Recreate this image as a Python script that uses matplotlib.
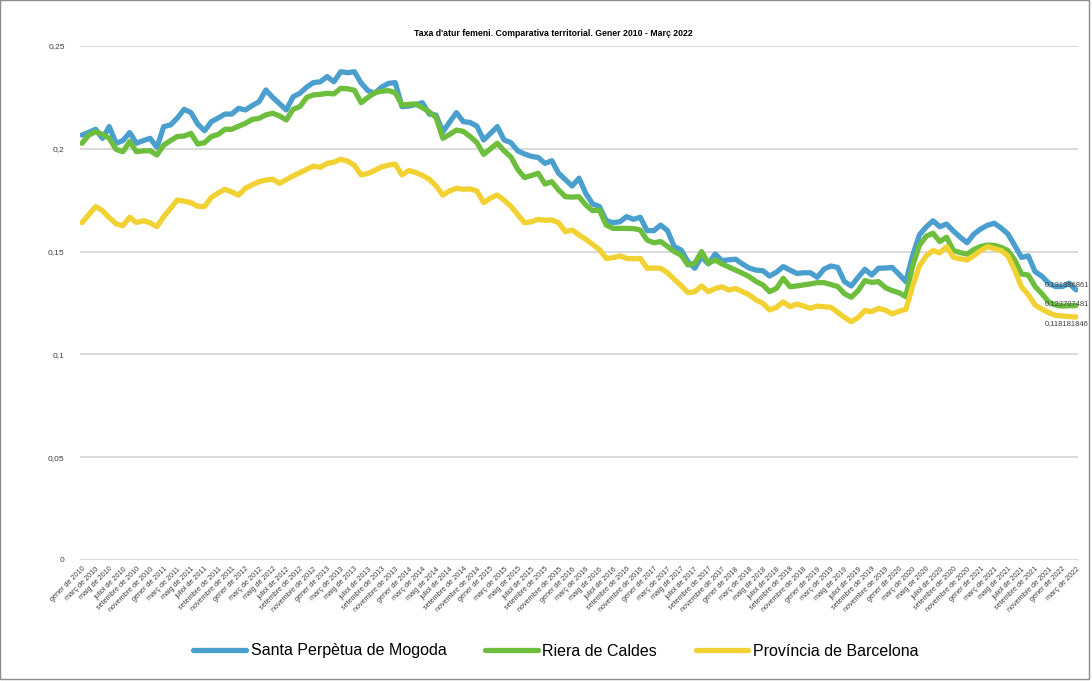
import matplotlib.pyplot as plt
from matplotlib.patches import Rectangle

plt.rcParams['font.family'] = ['Liberation Sans', 'DejaVu Sans']

# mesos (etiquetes de l'eix X)
mesos = ['gener', 'febrer', 'març', 'abril', 'maig', 'juny', 'juliol',
         'agost', 'setembre', 'octubre', 'novembre', 'desembre']
anys = list(range(2010, 2023))
etiquetes = [f'{m} de {a}' for a in anys for m in mesos][:147]

santa_perpetua = [
    0.2067, 0.2080, 0.2095, 0.2051, 0.2108, 0.2027, 0.2040, 0.2079, 0.2027, 0.2040, 0.2051, 0.2007,
    0.2108, 0.2116, 0.2150, 0.2192, 0.2176, 0.2120, 0.2088, 0.2132, 0.2150, 0.2169, 0.2169, 0.2197,
    0.2189, 0.2210, 0.2229, 0.2286, 0.2250, 0.2220, 0.2189, 0.2253, 0.2270, 0.2300, 0.2322, 0.2326,
    0.2351, 0.2326, 0.2375, 0.2370, 0.2375, 0.2320, 0.2283, 0.2270, 0.2300, 0.2318, 0.2322, 0.2205,
    0.2208, 0.2215, 0.2224, 0.2169, 0.2164, 0.2083, 0.2130, 0.2176, 0.2132, 0.2128, 0.2110, 0.2043,
    0.2075, 0.2108, 0.2043, 0.2030, 0.1990, 0.1975, 0.1963, 0.1958, 0.1929, 0.1942, 0.1881, 0.1850,
    0.1819, 0.1857, 0.1783, 0.1732, 0.1719, 0.1650, 0.1641, 0.1645, 0.1670, 0.1657, 0.1667, 0.1602,
    0.1602, 0.1629, 0.1602, 0.1524, 0.1508, 0.1451, 0.1419, 0.1475, 0.1440, 0.1488, 0.1456, 0.1460,
    0.1463, 0.1440, 0.1420, 0.1410, 0.1407, 0.1381, 0.1400, 0.1427, 0.1410, 0.1394, 0.1397, 0.1397,
    0.1375, 0.1415, 0.1430, 0.1423, 0.1354, 0.1333, 0.1375, 0.1414, 0.1386, 0.1419, 0.1420, 0.1423,
    0.1390, 0.1354, 0.1480, 0.1581, 0.1620, 0.1650, 0.1621, 0.1634, 0.1600, 0.1570, 0.1543, 0.1585,
    0.1610, 0.1628, 0.1638, 0.1615, 0.1586, 0.1530, 0.1472, 0.1479, 0.1402, 0.1380, 0.1346, 0.1330,
    0.1330, 0.1346, 0.131386861]

riera_caldes = [
    0.2027, 0.2067, 0.2083, 0.2070, 0.2051, 0.1997, 0.1986, 0.2035, 0.1986, 0.1990, 0.1991, 0.1970,
    0.2018, 0.2040, 0.2060, 0.2062, 0.2075, 0.2023, 0.2030, 0.2060, 0.2070, 0.2095, 0.2095, 0.2110,
    0.2124, 0.2143, 0.2148, 0.2165, 0.2173, 0.2160, 0.2140, 0.2192, 0.2205, 0.2250, 0.2262, 0.2265,
    0.2270, 0.2267, 0.2294, 0.2292, 0.2285, 0.2224, 0.2250, 0.2273, 0.2280, 0.2283, 0.2273, 0.2213,
    0.2216, 0.2218, 0.2200, 0.2180, 0.2153, 0.2051, 0.2070, 0.2091, 0.2085, 0.2060, 0.2030, 0.1973,
    0.2000, 0.2027, 0.1990, 0.1960, 0.1900, 0.1860, 0.1870, 0.1881, 0.1829, 0.1840, 0.1800, 0.1767,
    0.1765, 0.1767, 0.1727, 0.1699, 0.1702, 0.1629, 0.1613, 0.1613, 0.1613, 0.1612, 0.1605, 0.1556,
    0.1543, 0.1549, 0.1525, 0.1500, 0.1483, 0.1435, 0.1443, 0.1500, 0.1443, 0.1459, 0.1440, 0.1425,
    0.1410, 0.1395, 0.1378, 0.1355, 0.1338, 0.1305, 0.1321, 0.1370, 0.1329, 0.1333, 0.1338, 0.1343,
    0.1349, 0.1349, 0.1340, 0.1330, 0.1295, 0.1278, 0.1310, 0.1359, 0.1350, 0.1354, 0.1325, 0.1310,
    0.1300, 0.1281, 0.1430, 0.1530, 0.1575, 0.1589, 0.1549, 0.1570, 0.1505, 0.1495, 0.1488, 0.1510,
    0.1525, 0.1532, 0.1530, 0.1521, 0.1505, 0.1460, 0.1391, 0.1386, 0.1330, 0.1295, 0.1255, 0.1240,
    0.1235, 0.1237, 0.123707481]

provincia_bcn = [
    0.1641, 0.1680, 0.1719, 0.1699, 0.1665, 0.1635, 0.1626, 0.1667, 0.1641, 0.1650, 0.1640, 0.1621,
    0.1670, 0.1710, 0.1751, 0.1745, 0.1738, 0.1720, 0.1719, 0.1764, 0.1785, 0.1803, 0.1790, 0.1775,
    0.1808, 0.1825, 0.1840, 0.1848, 0.1852, 0.1832, 0.1850, 0.1868, 0.1884, 0.1900, 0.1916, 0.1910,
    0.1929, 0.1935, 0.1949, 0.1940, 0.1920, 0.1873, 0.1880, 0.1895, 0.1912, 0.1920, 0.1926, 0.1873,
    0.1894, 0.1885, 0.1870, 0.1852, 0.1820, 0.1775, 0.1795, 0.1808, 0.1803, 0.1805, 0.1795, 0.1738,
    0.1760, 0.1775, 0.1750, 0.1720, 0.1680, 0.1640, 0.1645, 0.1657, 0.1652, 0.1654, 0.1640, 0.1597,
    0.1605, 0.1581, 0.1560, 0.1535, 0.1510, 0.1467, 0.1470, 0.1479, 0.1467, 0.1465, 0.1467, 0.1419,
    0.1420, 0.1419, 0.1397, 0.1365, 0.1335, 0.1300, 0.1305, 0.1333, 0.1305, 0.1320, 0.1329, 0.1313,
    0.1321, 0.1305, 0.1290, 0.1265, 0.1249, 0.1216, 0.1229, 0.1256, 0.1232, 0.1245, 0.1235, 0.1224,
    0.1235, 0.1232, 0.1229, 0.1205, 0.1180, 0.1159, 0.1180, 0.1213, 0.1208, 0.1224, 0.1215, 0.1197,
    0.1210, 0.1219, 0.1330, 0.1430, 0.1479, 0.1505, 0.1494, 0.1524, 0.1472, 0.1465, 0.1459, 0.1480,
    0.1505, 0.1524, 0.1515, 0.1505, 0.1480, 0.1410, 0.1329, 0.1290, 0.1240, 0.1220, 0.1203, 0.1190,
    0.1187, 0.1184, 0.118181846]

series = [
    ('Santa Perpètua de Mogoda', santa_perpetua, '#4A9FCE', 5),
    ('Riera de Caldes', riera_caldes, '#6DBE3C', 2),
    ('Província de Barcelona', provincia_bcn, '#F2D232', -7),
]

fig = plt.figure(figsize=(10.92, 6.81), dpi=100)
ax = fig.add_axes([80 / 1092, 121 / 681, 998 / 1092, 514 / 681])

x = list(range(len(etiquetes)))
for nom, vals, col, dy in series:
    ax.plot(x, vals, color=col, lw=3.8, label=nom, solid_capstyle='round',
            solid_joinstyle='round')
    ax.annotate(f'{vals[-1]:.9f}'.replace('.', ','), (x[-1], vals[-1]),
                xytext=(-6.5, dy * 0.72), textcoords='offset points',
                ha='center', va='center', fontsize=5.5, color='#404040')

ax.set_xlim(-0.3, 146.3)
ax.set_ylim(0, 0.25)
yt = [0, 0.05, 0.1, 0.15, 0.2, 0.25]
ax.set_yticks(yt)
ax.set_yticklabels([f'{v:g}'.replace('.', ',') for v in yt], fontsize=6, color='#404040')
ax.set_xticks(x[::2])
ax.set_xticklabels(etiquetes[::2], rotation=45, ha='right', va='top',
                   rotation_mode='anchor', fontsize=5.2, color='#404040')
ax.tick_params(length=0)
ax.tick_params(axis='x', pad=4)
ax.tick_params(axis='y', pad=11)
ax.grid(axis='y', color='#D9D9D9', lw=1.4)
ax.set_axisbelow(True)
for s in ax.spines.values():
    s.set_visible(False)

fig.text(553 / 1092, 1 - 33 / 681,
         "Taxa d'atur femeni. Comparativa territorial. Gener 2010 - Març 2022",
         ha='center', va='center', fontsize=6.3, fontweight='bold')

fig.legend(loc='center', bbox_to_anchor=(556 / 1092, 1 - 651 / 681), ncol=3,
           frameon=False, fontsize=11.5, handlelength=3.3, handletextpad=0.3,
           columnspacing=2.4)

fig.patches.append(Rectangle((0, 2 / 681), 1089 / 1092, 679 / 681, transform=fig.transFigure,
                             fill=False, edgecolor='#8C8C8C', lw=1))

fig.savefig('out.png', dpi=100)
